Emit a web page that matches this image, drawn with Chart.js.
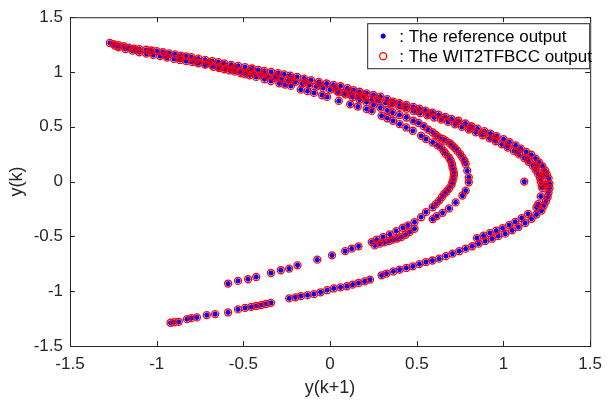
<!DOCTYPE html>
<html>
<head>
<meta charset="utf-8">
<title>y(k) vs y(k+1)</title>
<script src="https://cdn.jsdelivr.net/npm/chart.js@4/dist/chart.umd.min.js"></script>
<style>
  html, body { margin: 0; padding: 0; background: #fff; }
  #wrap { width: 610px; height: 402px; }
</style>
</head>
<body>
<div id="wrap"><canvas id="chart" width="610" height="402"></canvas></div>
<script>
// ---- data: [y(k+1), y(k)] ----

// upper band, outer edge line, top-left end round to the nose
var bandTop = [
  [-1.27, 1.265], [-1.25, 1.255], [-1.22, 1.245], [-1.19, 1.235], [-1.16, 1.222],
  [-1.13, 1.213], [-1.10, 1.208], [-1.06, 1.203], [-1.03, 1.196], [-1.00, 1.19],
  [-0.965, 1.18], [-0.93, 1.17], [-0.895, 1.16], [-0.86, 1.15], [-0.83, 1.143],
  [-0.80, 1.135], [-0.76, 1.122], [-0.72, 1.11], [-0.68, 1.10], [-0.645, 1.09],
  [-0.61, 1.078], [-0.57, 1.065], [-0.53, 1.055], [-0.49, 1.045], [-0.45, 1.032],
  [-0.415, 1.02], [-0.38, 1.01], [-0.34, 1.0], [-0.30, 0.99], [-0.265, 0.978],
  [-0.23, 0.967], [-0.19, 0.955], [-0.15, 0.94], [-0.11, 0.925], [-0.065, 0.91],
  [-0.02, 0.895], [0.02, 0.882], [0.06, 0.87], [0.10, 0.852], [0.135, 0.835],
  [0.17, 0.82], [0.21, 0.805], [0.25, 0.79], [0.29, 0.775], [0.33, 0.752],
  [0.365, 0.73], [0.40, 0.715], [0.44, 0.70], [0.48, 0.682], [0.515, 0.665],
  [0.55, 0.648], [0.59, 0.63], [0.625, 0.61], [0.665, 0.59], [0.70, 0.572],
  [0.74, 0.555], [0.78, 0.53], [0.815, 0.505], [0.85, 0.483], [0.89, 0.46],
  [0.925, 0.438], [0.96, 0.415], [1.00, 0.388], [1.035, 0.36], [1.07, 0.33],
  [1.10, 0.30], [1.13, 0.272], [1.16, 0.245], [1.185, 0.21], [1.205, 0.175],
  [1.225, 0.138], [1.24, 0.10], [1.25, 0.065], [1.26, 0.03], [1.265, -0.02]
];

// upper band, second line just inside the first
var bandMid = [
  [-1.22, 1.225], [-1.18, 1.21], [-1.14, 1.195], [-1.10, 1.18], [-1.06, 1.168],
  [-1.02, 1.157], [-0.98, 1.145], [-0.94, 1.132], [-0.90, 1.12], [-0.865, 1.11],
  [-0.83, 1.10], [-0.795, 1.09], [-0.76, 1.08], [-0.72, 1.07], [-0.68, 1.06],
  [-0.64, 1.048], [-0.60, 1.035], [-0.56, 1.022], [-0.52, 1.01], [-0.48, 0.998],
  [-0.44, 0.985], [-0.40, 0.972], [-0.36, 0.96], [-0.32, 0.948], [-0.28, 0.935],
  [-0.24, 0.922], [-0.20, 0.91], [-0.16, 0.895], [-0.12, 0.88], [-0.08, 0.868],
  [-0.04, 0.855], [0.00, 0.84], [0.04, 0.825], [0.08, 0.81], [0.12, 0.795],
  [0.16, 0.78], [0.20, 0.765], [0.24, 0.75], [0.28, 0.735], [0.32, 0.718],
  [0.36, 0.70], [0.40, 0.683], [0.44, 0.665], [0.48, 0.645], [0.52, 0.625],
  [0.56, 0.605], [0.60, 0.585], [0.64, 0.565], [0.68, 0.545], [0.72, 0.523],
  [0.76, 0.50], [0.80, 0.475], [0.84, 0.45], [0.88, 0.423], [0.92, 0.395],
  [0.955, 0.368], [0.99, 0.34], [1.025, 0.31], [1.06, 0.28], [1.09, 0.248],
  [1.12, 0.215], [1.145, 0.18], [1.17, 0.145], [1.185, 0.108], [1.20, 0.07],
  [1.21, 0.035], [1.215, 0.0], [1.22, -0.04]
];

// loose points scattered between the two band lines
var bandFill = [
  [-1.24, 1.24], [-1.12, 1.20], [-1.04, 1.185], [-0.95, 1.155], [-0.87, 1.13],
  [-0.78, 1.105], [-0.70, 1.085], [-0.62, 1.06], [-0.55, 1.04], [-0.46, 1.01],
  [-0.38, 0.985], [-0.31, 0.963], [-0.22, 0.94], [-0.14, 0.91], [-0.06, 0.882],
  [0.03, 0.852], [0.11, 0.823], [0.19, 0.79], [0.27, 0.755], [0.35, 0.715],
  [0.43, 0.683], [0.50, 0.645], [0.57, 0.617], [0.65, 0.578], [0.73, 0.54],
  [0.81, 0.49], [0.88, 0.44], [0.95, 0.39], [1.02, 0.335], [1.08, 0.275],
  [1.14, 0.21], [1.19, 0.14], [1.225, 0.06], [1.24, -0.03]
];

// line leaving the band underneath, turning into the outer inner arc
var innerArcOuter = [
  [0.05, 0.815], [0.09, 0.795], [0.13, 0.77], [0.17, 0.748], [0.21, 0.725],
  [0.25, 0.70], [0.29, 0.675], [0.33, 0.65], [0.36, 0.63], [0.40, 0.608],
  [0.44, 0.585], [0.48, 0.555], [0.51, 0.535], [0.54, 0.505], [0.565, 0.475],
  [0.592, 0.448], [0.61, 0.425], [0.629, 0.403], [0.65, 0.39], [0.667, 0.373],
  [0.69, 0.35], [0.706, 0.327], [0.72, 0.305], [0.734, 0.282], [0.75, 0.25],
  [0.763, 0.221], [0.775, 0.19], [0.782, 0.161], [0.791, 0.10], [0.80, 0.039],
  [0.80, -0.006], [0.782, -0.082], [0.763, -0.127], [0.724, -0.19], [0.686, -0.245],
  [0.649, -0.285], [0.615, -0.315], [0.592, -0.342], [0.487, -0.430], [0.458, -0.461],
  [0.435, -0.485], [0.411, -0.506], [0.387, -0.52], [0.363, -0.530], [0.340, -0.543],
  [0.314, -0.555], [0.287, -0.566], [0.258, -0.582]
];

// inner line from the upper left, round the inner nose, down to the lower left
var innerArcInner = [
  [-0.76, 1.085], [-0.72, 1.068], [-0.673, 1.048], [-0.64, 1.036], [-0.61, 1.025],
  [-0.58, 1.014], [-0.549, 1.003], [-0.515, 0.988], [-0.49, 0.978], [-0.464, 0.97],
  [-0.426, 0.955], [-0.378, 0.934], [-0.341, 0.918], [-0.293, 0.897], [-0.26, 0.885],
  [-0.226, 0.873], [-0.169, 0.839], [-0.13, 0.825], [-0.093, 0.809], [-0.046, 0.788],
  [-0.017, 0.773], [0.05, 0.736], [0.116, 0.705], [0.16, 0.685], [0.211, 0.661],
  [0.24, 0.645], [0.297, 0.60], [0.33, 0.578], [0.363, 0.555], [0.401, 0.525],
  [0.439, 0.494], [0.477, 0.464], [0.525, 0.418], [0.553, 0.388], [0.592, 0.357],
  [0.62, 0.33], [0.639, 0.312], [0.655, 0.28], [0.667, 0.252], [0.685, 0.22],
  [0.696, 0.191], [0.703, 0.16], [0.706, 0.13], [0.712, 0.10], [0.715, 0.07],
  [0.712, 0.035], [0.706, 0.0], [0.70, -0.03], [0.686, -0.064], [0.672, -0.09],
  [0.658, -0.112], [0.645, -0.14], [0.629, -0.173], [0.61, -0.205], [0.592, -0.234],
  [0.553, -0.279], [0.525, -0.325], [0.487, -0.37], [0.449, -0.40], [0.42, -0.421],
  [0.382, -0.452], [0.344, -0.482], [0.306, -0.506], [0.268, -0.53], [0.24, -0.552],
  [0.164, -0.591], [0.125, -0.612], [0.087, -0.634], [0.011, -0.673], [-0.074, -0.712],
  [-0.188, -0.764], [-0.236, -0.794], [-0.284, -0.809], [-0.341, -0.834], [-0.426, -0.87],
  [-0.473, -0.891], [-0.531, -0.906], [-0.588, -0.93]
];

// lower branch, outer line from the nose to the bottom left end
var lowerOuter = [
  [1.265, -0.06], [1.26, -0.10], [1.255, -0.14], [1.245, -0.18], [1.232, -0.22],
  [1.219, -0.264], [1.19, -0.30], [1.162, -0.339], [1.125, -0.378], [1.086, -0.415],
  [1.05, -0.445], [1.01, -0.475], [0.97, -0.498], [0.934, -0.521], [0.895, -0.543],
  [0.857, -0.566], [0.82, -0.59], [0.782, -0.612], [0.745, -0.635], [0.706, -0.657],
  [0.668, -0.68], [0.629, -0.703], [0.59, -0.72], [0.553, -0.734], [0.515, -0.753],
  [0.477, -0.773], [0.44, -0.788], [0.401, -0.803], [0.365, -0.82], [0.325, -0.839],
  [0.297, -0.855], [0.23, -0.894], [0.20, -0.91], [0.164, -0.925], [0.13, -0.94],
  [0.097, -0.955], [0.06, -0.965], [0.021, -0.975], [-0.017, -0.991], [-0.055, -1.01],
  [-0.093, -1.027], [-0.13, -1.036], [-0.169, -1.045], [-0.20, -1.056], [-0.236, -1.066],
  [-0.341, -1.106], [-0.37, -1.117], [-0.398, -1.127], [-0.425, -1.135], [-0.455, -1.143],
  [-0.49, -1.152], [-0.531, -1.166], [-0.588, -1.194], [-0.663, -1.209], [-0.711, -1.218],
  [-0.768, -1.239], [-0.80, -1.246], [-0.825, -1.255], [-0.873, -1.279], [-0.90, -1.283],
  [-0.92, -1.288]
];

// lower branch, inner line near the nose
var lowerInner = [
  [1.225, -0.06], [1.215, -0.135], [1.20, -0.205], [1.19, -0.235], [1.142, -0.294],
  [1.105, -0.333], [1.068, -0.368], [1.033, -0.397], [0.995, -0.425], [0.958, -0.448],
  [0.922, -0.471], [0.885, -0.493], [0.847, -0.516]
];

// lone point inside the nose
var strayPoints = [[1.12, 0.0]];

var seriesLabels = [': The reference output', ': The WIT2TFBCC output'];
var axisTicks = [-1.5, -1, -0.5, 0, 0.5, 1, 1.5];
var tickText = ['-1.5', '-1', '-0.5', '0', '0.5', '1', '1.5'];

// ---- build the point list once, both outputs overlap ----
var allPoints = [].concat(bandTop, bandMid, bandFill, innerArcOuter, innerArcInner,
                          lowerOuter, lowerInner, strayPoints)
  .map(function (p) { return { x: p[0], y: p[1] }; });

var axisColour = '#262626';
var font = "'Liberation Sans', Arial, sans-serif";

function tickLabel(value) {
  var i = axisTicks.indexOf(value);
  return i >= 0 ? tickText[i] : '';
}

// box round the axes with MATLAB style inward ticks
var boxPlugin = {
  id: 'boxTicks',
  afterDatasetsDraw: function (chart) {
    var ctx = chart.ctx, a = chart.chartArea;
    var xs = chart.scales.x, ys = chart.scales.y;
    ctx.save();
    ctx.strokeStyle = axisColour;
    ctx.lineWidth = 1;
    ctx.strokeRect(a.left + 0.5, a.top + 0.5, a.right - a.left, a.bottom - a.top);
    ctx.beginPath();
    axisTicks.forEach(function (v) {
      var px = Math.round(xs.getPixelForValue(v)) + 0.5;
      ctx.moveTo(px, a.bottom); ctx.lineTo(px, a.bottom - 5);
      ctx.moveTo(px, a.top); ctx.lineTo(px, a.top + 5);
      var py = Math.round(ys.getPixelForValue(v)) + 0.5;
      ctx.moveTo(a.left, py); ctx.lineTo(a.left + 5, py);
      ctx.moveTo(a.right, py); ctx.lineTo(a.right - 5, py);
    });
    ctx.stroke();
    ctx.restore();
  }
};

// legend box in the top right corner of the axes
var legendPlugin = {
  id: 'boxLegend',
  afterDraw: function (chart) {
    var ctx = chart.ctx, a = chart.chartArea;
    var x0 = a.right - 223, y0 = a.top + 6, w = 223, h = 45;
    ctx.save();
    ctx.fillStyle = '#fff';
    ctx.fillRect(x0, y0, w, h);
    ctx.strokeStyle = axisColour;
    ctx.lineWidth = 1;
    ctx.strokeRect(x0 + 0.5, y0 + 0.5, w - 1, h);
    var sets = chart.data.datasets;
    [1, 0].forEach(function (di, row) {
      var ds = sets[di];
      var cy = y0 + 13 + row * 20;
      ctx.strokeStyle = ds.borderColor;
      ctx.fillStyle = ds.backgroundColor;
      ctx.lineWidth = ds.borderWidth;
      Chart.helpers.drawPoint(ctx, {
        pointStyle: ds.pointStyle, radius: ds.pointRadius,
        borderWidth: ds.borderWidth, rotation: 0
      }, x0 + 16, cy);
      ctx.fillStyle = '#000';
      ctx.font = '17px ' + font;
      ctx.textBaseline = 'middle';
      ctx.fillText(seriesLabels[row], x0 + 32, cy + 1);
    });
    ctx.restore();
  }
};

new Chart(document.getElementById('chart'), {
  type: 'scatter',
  data: {
    datasets: [
      {
        label: seriesLabels[1],
        data: allPoints,
        pointStyle: 'circle',
        pointRadius: 3.5,
        borderWidth: 1.3,
        borderColor: '#ff0000',
        backgroundColor: 'rgba(255,255,255,0)',
        order: 0
      },
      {
        label: seriesLabels[0],
        data: allPoints,
        pointStyle: 'star',
        pointRadius: 2.6,
        borderWidth: 1.5,
        borderColor: '#0000ff',
        backgroundColor: '#0000ff',
        order: 1
      }
    ]
  },
  options: {
    responsive: false,
    animation: false,
    devicePixelRatio: 1,
    layout: { padding: { top: 16, right: 14, left: 0, bottom: 0 } },
    plugins: {
      legend: { display: false },
      tooltip: { enabled: false }
    },
    scales: {
      x: {
        type: 'linear',
        min: -1.5, max: 1.5,
        afterFit: function (s) { s.height = 56; },
        afterBuildTicks: function (s) { s.ticks = axisTicks.map(function (v) { return { value: v }; }); },
        grid: { display: false, drawTicks: false },
        border: { display: false },
        ticks: { padding: 8, color: axisColour, font: { family: font, size: 17 }, callback: tickLabel },
        title: { display: true, text: 'y(k+1)', color: axisColour,
                 font: { family: font, size: 18 }, padding: { top: 0, bottom: 3 } }
      },
      y: {
        type: 'linear',
        min: -1.5, max: 1.5,
        afterFit: function (s) { s.width = 70; },
        afterBuildTicks: function (s) { s.ticks = axisTicks.map(function (v) { return { value: v }; }); },
        grid: { display: false, drawTicks: false },
        border: { display: false },
        ticks: { padding: 7, color: axisColour, font: { family: font, size: 17 }, callback: tickLabel },
        title: { display: true, text: 'y(k)', color: axisColour,
                 font: { family: font, size: 18 }, padding: { top: 6, bottom: 0 } }
      }
    }
  },
  plugins: [boxPlugin, legendPlugin]
});
</script>
</body>
</html>
